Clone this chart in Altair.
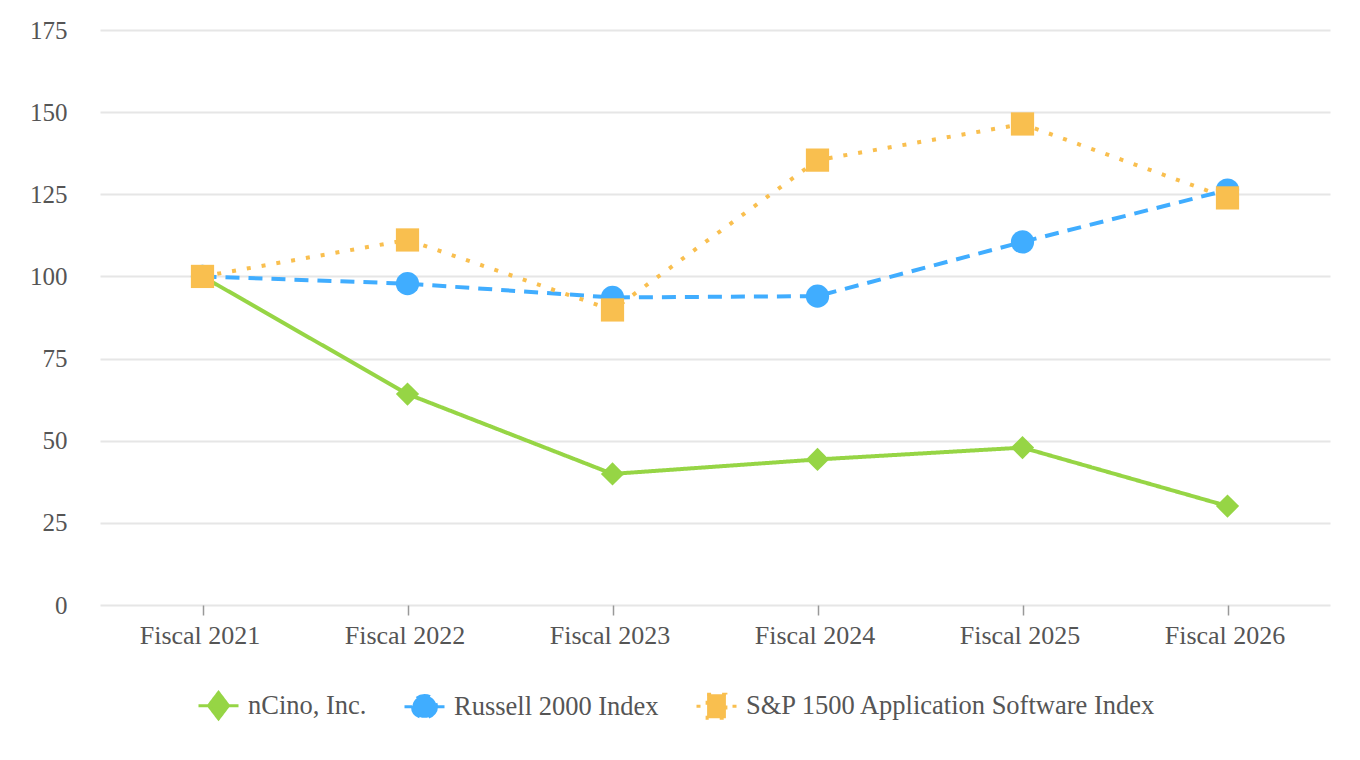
import altair as alt
import pandas as pd

years = ["Fiscal 2021", "Fiscal 2022", "Fiscal 2023", "Fiscal 2024", "Fiscal 2025", "Fiscal 2026"]
ncino = [100, 64.2, 39.9, 44.3, 47.9, 30.1]
russell = [100, 97.8, 93.6, 94.0, 110.5, 126.3]
sp1500 = [100, 111.1, 89.8, 135.4, 146.4, 123.9]
series_names = ["nCino, Inc.", "Russell 2000 Index", "S&P 1500 Application Software Index"]
y_ticks = [0, 25, 50, 75, 100, 125, 150, 175]

colors = ["#96D545", "#40ADFF", "#F9BF4F"]
dashes = [[1, 0], [14, 9], [4, 11]]
marker_shapes = ["diamond", "circle", "square"]
# legend symbols: a short line segment plus a filled marker
legend_shapes = [
    "M-1,0L1,0M0,-0.66L0.5,0L0,0.66L-0.5,0Z",
    "M-1,0L-0.6,0M0.6,0L1,0M0.6,0A0.6,0.56,0,1,1,-0.6,0A0.6,0.56,0,1,1,0.6,0Z",
    "M-1,0L-0.8,0M0.8,0L1,0M-0.47,-0.6L0.47,-0.6L0.47,0.6L-0.47,0.6Z",
]

FONT = "Liberation Serif"
TEXT = "#555555"

rows = []
for name, vals in zip(series_names, [ncino, russell, sp1500]):
    for yr, v in zip(years, vals):
        rows.append({"year": yr, "value": v, "series": name})
df = pd.DataFrame(rows)

color_scale = alt.Scale(domain=series_names, range=colors)
dash_scale = alt.Scale(domain=series_names, range=dashes)
marker_scale = alt.Scale(domain=series_names, range=marker_shapes)
legend_shape_scale = alt.Scale(domain=series_names, range=legend_shapes)

x_enc = alt.X(
    "year:N", sort=years, scale=alt.Scale(type="point", padding=0.5),
    axis=alt.Axis(title=None, labelAngle=0, domain=False, grid=False, ticks=True,
                  tickColor="#999999", tickSize=10, tickWidth=1.5,
                  labelFont=FONT, labelFontSize=26, labelColor=TEXT, labelPadding=7,
                  labelOffset=-3),
)
y_enc = alt.Y(
    "value:Q", scale=alt.Scale(domain=[0, 175], nice=False, zero=True),
    axis=alt.Axis(title=None, values=y_ticks, domain=False, ticks=False, tickSize=0,
                  grid=True, gridColor="#E6E6E6", gridWidth=2,
                  labelFont=FONT, labelFontSize=25, labelColor=TEXT, labelPadding=33),
)

lines = alt.Chart(df).mark_line(strokeWidth=4).encode(
    x=x_enc, y=y_enc,
    color=alt.Color("series:N", scale=color_scale, legend=None),
    strokeDash=alt.StrokeDash("series:N", scale=dash_scale, legend=None),
    detail="series:N",
)

points = alt.Chart(df).mark_point(filled=True, opacity=1, size=540).encode(
    x=x_enc, y=y_enc,
    color=alt.Color("series:N", scale=color_scale, legend=None),
    shape=alt.Shape("series:N", scale=marker_scale, legend=None),
)

leg = alt.Legend(title=None, orient="none", legendX=97, legendY=654, direction="horizontal",
                 labelFont=FONT, labelFontSize=26.5, labelColor=TEXT, labelLimit=800,
                 symbolSize=1600, symbolStrokeWidth=3, columnPadding=31, labelOffset=8,
                 padding=0)

legend_layer = alt.Chart(df).transform_filter("false").mark_point(
    filled=True, opacity=1, strokeWidth=3
).encode(
    color=alt.Color("series:N", scale=color_scale, legend=leg),
    stroke=alt.Stroke("series:N", scale=color_scale, legend=leg),
    shape=alt.Shape("series:N", scale=legend_shape_scale, legend=leg),
    strokeDash=alt.StrokeDash("series:N", scale=dash_scale, legend=leg),
)

chart = alt.layer(lines, points, legend_layer).resolve_scale(
    shape="independent"
).resolve_legend(
    color="independent", stroke="independent", shape="independent", strokeDash="independent"
).properties(
    width=1230, height=575, background="white",
    padding={"left": 92, "top": 22, "right": 22, "bottom": 140},
    autosize=alt.AutoSizeParams(type="none"),
).configure_view(strokeWidth=0)

chart.save("out.html", embed_options={"renderer": "svg", "actions": False})
